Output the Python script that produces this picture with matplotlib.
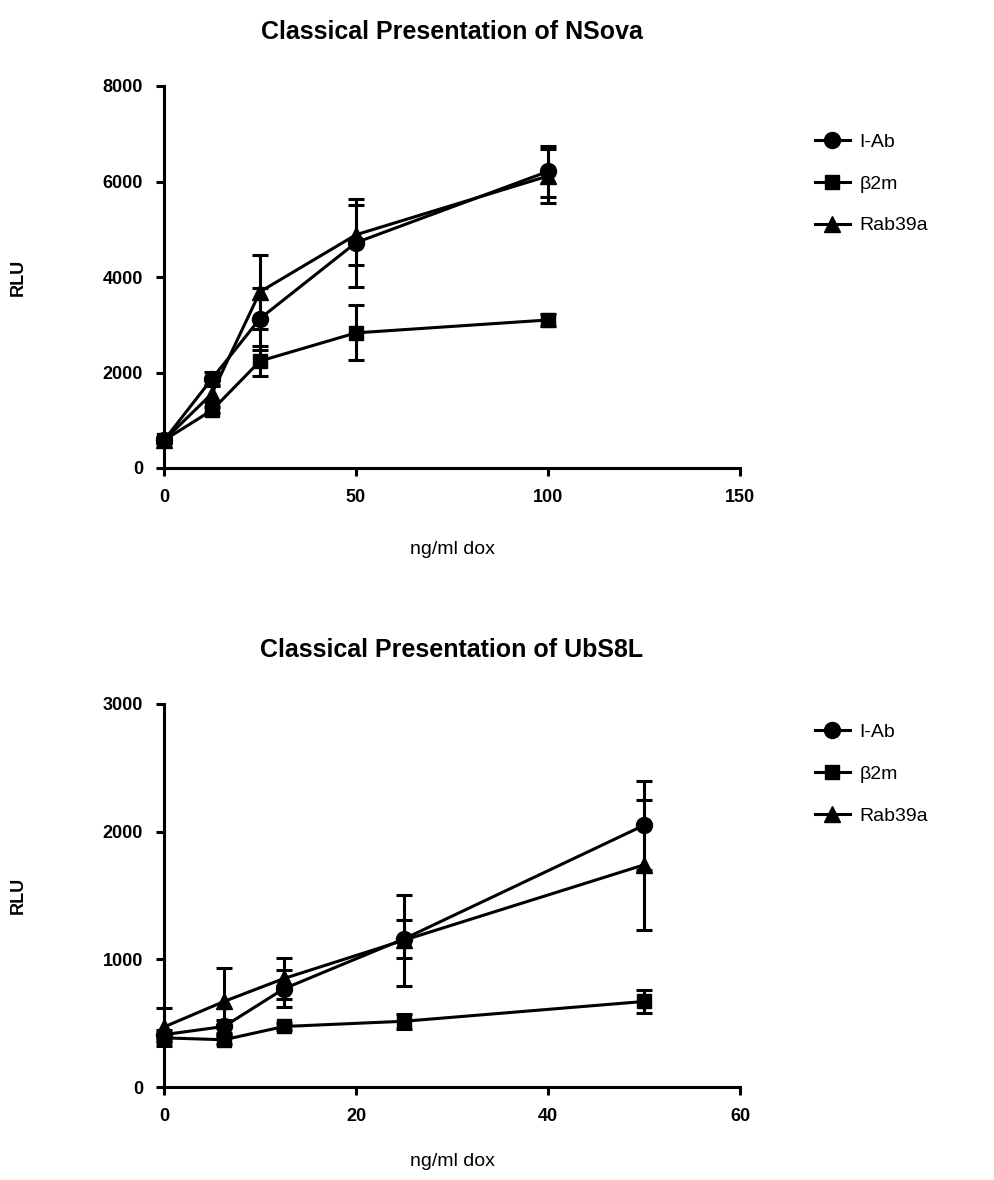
import matplotlib
matplotlib.use("Agg")
import matplotlib.pyplot as plt
from matplotlib.lines import Line2D

plt.rcParams["font.family"] = ["Liberation Sans", "DejaVu Sans"]

# NSova titration
dox_nsova = [0, 12.5, 25, 50, 100]
iab_nsova = [580, 1870, 3130, 4720, 6210]
iab_nsova_err = [60, 140, 650, 920, 540]
b2m_nsova = [580, 1210, 2240, 2830, 3100]
b2m_nsova_err = [50, 60, 310, 575, 120]
rab_nsova = [580, 1560, 3690, 4885, 6115]
rab_nsova_err = [50, 150, 780, 630, 565]

# UbS8L titration
dox_ubs8l = [0, 6.25, 12.5, 25, 50]
iab_ubs8l = [410, 474, 770, 1160, 2050]
iab_ubs8l_err = [40, 50, 145, 150, 350]
b2m_ubs8l = [385, 370, 474, 515, 670]
b2m_ubs8l_err = [30, 30, 25, 60, 90]
rab_ubs8l = [470, 670, 850, 1150, 1740]
rab_ubs8l_err = [148, 260, 160, 356, 510]

series_labels = ["I-Ab", "\u03b22m", "Rab39a"]
markers = ["o", "s", "^"]
msizes = [11.5, 10.5, 12]

fig = plt.figure(figsize=(9.95, 11.8), dpi=100)
ax1 = fig.add_axes([164 / 995, 1 - 468 / 1180, 576 / 995, 382 / 1180])
ax2 = fig.add_axes([164 / 995, 1 - 1087 / 1180, 576 / 995, 383 / 1180])


def draw_panel(ax, x, ys, errs, title, xmax, xticks, ymax, yticks,
               xlabel_y, legend_y):
    handles = []
    for y, e, lab, m, ms in zip(ys, errs, series_labels, markers, msizes):
        ax.errorbar(x, y, yerr=e, fmt="-", marker=m, ms=ms, color="black",
                    lw=2.2, elinewidth=2.2, capsize=6, capthick=2.2,
                    clip_on=False, zorder=3)
        handles.append(Line2D([], [], color="black", lw=2.2, marker=m,
                              ms=ms, label=lab))
    ax.set_xlim(0, xmax)
    ax.set_ylim(0, ymax)
    ax.set_xticks(xticks)
    ax.set_yticks(yticks)
    for s in ["top", "right"]:
        ax.spines[s].set_visible(False)
    for s in ["left", "bottom"]:
        ax.spines[s].set_linewidth(2.2)
    ax.tick_params(width=2.2, length=6, labelsize=13, pad=9)
    for t in ax.get_xticklabels() + ax.get_yticklabels():
        t.set_fontweight("bold")
    ax.set_title(title, fontsize=18, fontweight="bold", pad=34)
    ax.set_xlabel("ng/ml dox", fontsize=14)
    ax.xaxis.set_label_coords(0.5, xlabel_y)
    ax.set_ylabel("RLU", fontsize=13, fontweight="bold")
    ax.yaxis.set_label_coords(-0.238, 0.5)
    ax.legend(handles=handles, loc="upper left",
              bbox_to_anchor=(1.13, legend_y), frameon=False,
              fontsize=14, handlelength=1.8, labelspacing=1.25,
              numpoints=1, borderaxespad=0, borderpad=0, handletextpad=0.5)


draw_panel(ax1, dox_nsova, [iab_nsova, b2m_nsova, rab_nsova],
           [iab_nsova_err, b2m_nsova_err, rab_nsova_err],
           "Classical Presentation of NSova", 150, [0, 50, 100, 150],
           8000, [0, 2000, 4000, 6000, 8000], -0.19, 0.877)
draw_panel(ax2, dox_ubs8l, [iab_ubs8l, b2m_ubs8l, rab_ubs8l],
           [iab_ubs8l_err, b2m_ubs8l_err, rab_ubs8l_err],
           "Classical Presentation of UbS8L", 60, [0, 20, 40, 60],
           3000, [0, 1000, 2000, 3000], -0.172, 0.95)

fig.savefig("out.png", dpi=100)
